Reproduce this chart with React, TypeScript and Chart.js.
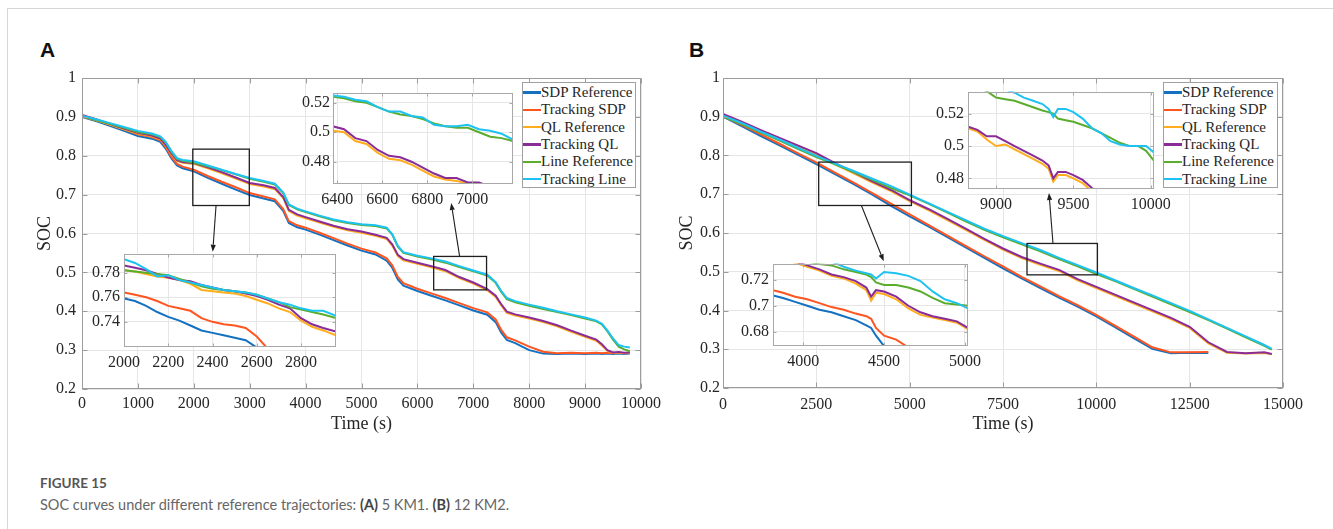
import React, { useEffect, useRef } from "react";
import { Chart, registerables } from "chart.js";

Chart.register(...registerables);

// ---------------- series meta ----------------
const SERIES_NAMES = ["SDP Reference", "Tracking SDP", "QL Reference", "Tracking QL", "Line Reference", "Tracking Line"];
const SERIES_COLORS = ["#1471c1", "#ff5521", "#ffad1c", "#8a2c97", "#5bad2e", "#1dc2f2"];

// ---------------- Panel A (5 KM1) ----------------
const timeA = [0, 250, 500, 750, 1000, 1250, 1400, 1500, 1600, 1700, 1800, 2000, 2250, 2500, 2750, 3000, 3250, 3450, 3600, 3700, 3850, 4000, 4250, 4500, 4750, 5000, 5250, 5450, 5550, 5650, 5750, 6000, 6250, 6500, 6750, 7000, 7250, 7400, 7500, 7600, 7750, 8000, 8250, 8500, 8750, 9000, 9200, 9300, 9400, 9500, 9600, 9700, 9800];
const sdpRefA = [0.900, 0.889, 0.877, 0.864, 0.851, 0.844, 0.836, 0.818, 0.793, 0.775, 0.768, 0.760, 0.743, 0.728, 0.713, 0.699, 0.690, 0.683, 0.658, 0.627, 0.616, 0.610, 0.597, 0.583, 0.569, 0.556, 0.546, 0.530, 0.512, 0.482, 0.466, 0.452, 0.440, 0.428, 0.415, 0.402, 0.391, 0.372, 0.345, 0.326, 0.318, 0.300, 0.291, 0.290, 0.291, 0.290, 0.291, 0.290, 0.291, 0.290, 0.291, 0.290, 0.291];
const trackSdpA = [0.901, 0.891, 0.880, 0.868, 0.855, 0.848, 0.840, 0.822, 0.797, 0.779, 0.772, 0.764, 0.748, 0.733, 0.719, 0.704, 0.695, 0.688, 0.663, 0.632, 0.621, 0.615, 0.602, 0.588, 0.574, 0.561, 0.551, 0.536, 0.518, 0.488, 0.472, 0.458, 0.446, 0.434, 0.421, 0.408, 0.397, 0.379, 0.352, 0.333, 0.325, 0.309, 0.296, 0.292, 0.293, 0.292, 0.293, 0.292, 0.293, 0.292, 0.293, 0.292, 0.293];
const qlRefA = [0.902, 0.892, 0.880, 0.868, 0.857, 0.850, 0.842, 0.826, 0.804, 0.787, 0.782, 0.779, 0.768, 0.755, 0.741, 0.727, 0.721, 0.714, 0.691, 0.658, 0.646, 0.639, 0.628, 0.617, 0.608, 0.602, 0.594, 0.586, 0.569, 0.542, 0.531, 0.522, 0.513, 0.503, 0.485, 0.471, 0.454, 0.437, 0.415, 0.396, 0.389, 0.381, 0.372, 0.361, 0.347, 0.334, 0.324, 0.312, 0.298, 0.293, 0.293, 0.292, 0.293];
const trackQlA = [0.905, 0.894, 0.882, 0.870, 0.859, 0.852, 0.844, 0.828, 0.806, 0.789, 0.784, 0.781, 0.770, 0.758, 0.744, 0.730, 0.724, 0.717, 0.694, 0.661, 0.649, 0.642, 0.631, 0.620, 0.611, 0.605, 0.597, 0.589, 0.572, 0.545, 0.534, 0.525, 0.516, 0.506, 0.488, 0.474, 0.457, 0.440, 0.418, 0.399, 0.392, 0.384, 0.375, 0.364, 0.350, 0.337, 0.327, 0.315, 0.300, 0.294, 0.295, 0.293, 0.294];
const lineRefA = [0.901, 0.892, 0.882, 0.872, 0.861, 0.855, 0.848, 0.834, 0.810, 0.792, 0.787, 0.782, 0.773, 0.763, 0.752, 0.741, 0.733, 0.726, 0.704, 0.673, 0.662, 0.655, 0.644, 0.634, 0.627, 0.622, 0.619, 0.613, 0.597, 0.566, 0.550, 0.541, 0.534, 0.525, 0.514, 0.503, 0.492, 0.473, 0.450, 0.431, 0.423, 0.414, 0.406, 0.398, 0.390, 0.381, 0.374, 0.366, 0.348, 0.327, 0.309, 0.302, 0.297];
const trackLineA = [0.903, 0.894, 0.884, 0.874, 0.864, 0.857, 0.850, 0.835, 0.812, 0.794, 0.789, 0.786, 0.775, 0.764, 0.753, 0.743, 0.735, 0.728, 0.705, 0.675, 0.664, 0.657, 0.646, 0.636, 0.629, 0.624, 0.621, 0.615, 0.598, 0.568, 0.552, 0.543, 0.536, 0.528, 0.516, 0.505, 0.494, 0.475, 0.452, 0.434, 0.426, 0.417, 0.409, 0.400, 0.392, 0.384, 0.376, 0.368, 0.350, 0.330, 0.313, 0.309, 0.307];

// ---------------- Panel B (12 KM2) ----------------
const timeB = [0, 500, 1000, 1500, 2000, 2500, 3000, 3500, 4000, 4500, 5000, 5500, 6000, 6500, 7000, 7500, 8000, 8500, 9000, 9500, 10000, 10500, 11000, 11500, 12000, 12500, 13000, 13500, 14000, 14500, 14700];
const sdpRefB = [0.900, 0.876, 0.851, 0.827, 0.802, 0.778, 0.752, 0.726, 0.699, 0.670, 0.643, 0.617, 0.590, 0.563, 0.536, 0.509, 0.483, 0.458, 0.433, 0.410, 0.385, 0.357, 0.329, 0.301, 0.290, 0.291, 0.290, null, null, null, null];
const trackSdpB = [0.901, 0.879, 0.855, 0.831, 0.806, 0.782, 0.756, 0.730, 0.703, 0.676, 0.648, 0.621, 0.594, 0.567, 0.540, 0.514, 0.487, 0.462, 0.437, 0.414, 0.389, 0.361, 0.333, 0.305, 0.292, 0.292, 0.293, null, null, null, null];
const qlRefB = [0.903, 0.884, 0.863, 0.843, 0.823, 0.803, 0.777, 0.754, 0.730, 0.708, 0.682, 0.659, 0.634, 0.608, 0.582, 0.557, 0.535, 0.518, 0.502, 0.478, 0.458, 0.438, 0.418, 0.398, 0.378, 0.355, 0.315, 0.291, 0.289, 0.290, 0.287];
const trackQlB = [0.907, 0.887, 0.866, 0.846, 0.826, 0.806, 0.780, 0.757, 0.733, 0.711, 0.685, 0.662, 0.637, 0.611, 0.585, 0.560, 0.538, 0.521, 0.505, 0.481, 0.461, 0.441, 0.421, 0.401, 0.381, 0.358, 0.318, 0.293, 0.290, 0.292, 0.288];
const lineRefB = [0.900, 0.881, 0.860, 0.839, 0.817, 0.796, 0.777, 0.757, 0.737, 0.716, 0.697, 0.676, 0.653, 0.630, 0.608, 0.589, 0.571, 0.553, 0.533, 0.514, 0.494, 0.476, 0.456, 0.436, 0.416, 0.396, 0.375, 0.353, 0.331, 0.309, 0.299];
const trackLineB = [0.903, 0.884, 0.862, 0.842, 0.820, 0.799, 0.779, 0.760, 0.740, 0.721, 0.699, 0.677, 0.655, 0.633, 0.611, 0.592, 0.574, 0.556, 0.536, 0.517, 0.498, 0.478, 0.458, 0.439, 0.419, 0.399, 0.377, 0.355, 0.333, 0.311, 0.301];

// ---------------- Inset A1 (6400-7180 s) ----------------
const timeA1 = [6380, 6430, 6480, 6530, 6580, 6630, 6680, 6730, 6780, 6830, 6880, 6930, 6980, 7030, 7080, 7130, 7180];
const qlRefA1 = [0.501, 0.500, 0.494, 0.492, 0.486, 0.482, 0.481, 0.478, 0.474, 0.470, 0.468, 0.467, 0.465, 0.464, 0.461, 0.459, 0.456];
const trackQlA1 = [0.504, 0.502, 0.496, 0.494, 0.488, 0.484, 0.483, 0.480, 0.476, 0.472, 0.469, 0.469, 0.466, 0.466, 0.463, 0.461, 0.458];
const lineRefA1 = [0.524, 0.523, 0.521, 0.520, 0.517, 0.514, 0.512, 0.511, 0.509, 0.506, 0.504, 0.503, 0.503, 0.500, 0.497, 0.496, 0.494];
const trackLineA1 = [0.525, 0.524, 0.522, 0.521, 0.517, 0.514, 0.514, 0.511, 0.510, 0.505, 0.504, 0.504, 0.505, 0.502, 0.501, 0.499, 0.495];

// ---------------- Inset A2 (2000-2960 s) ----------------
const timeA2 = [2000, 2050, 2100, 2150, 2200, 2250, 2300, 2350, 2400, 2450, 2500, 2550, 2600, 2650, 2700, 2750, 2800, 2850, 2900, 2958];
const sdpRefA2 = [0.759, 0.757, 0.753, 0.748, 0.744, 0.741, 0.737, 0.733, 0.731, 0.729, 0.727, 0.725, 0.719, 0.715, 0.711, 0.708, 0.705, 0.702, 0.700, 0.697];
const trackSdpA2 = [0.764, 0.762, 0.760, 0.757, 0.753, 0.751, 0.749, 0.743, 0.740, 0.738, 0.737, 0.735, 0.728, 0.718, 0.713, 0.709, 0.706, 0.703, 0.701, 0.698];
const qlRefA2 = [0.782, 0.781, 0.779, 0.777, 0.776, 0.774, 0.771, 0.766, 0.765, 0.764, 0.763, 0.761, 0.758, 0.755, 0.751, 0.748, 0.741, 0.736, 0.733, 0.729];
const trackQlA2 = [0.786, 0.784, 0.782, 0.779, 0.776, 0.774, 0.773, 0.770, 0.768, 0.766, 0.765, 0.763, 0.761, 0.758, 0.754, 0.751, 0.743, 0.738, 0.735, 0.732];
const lineRefA2 = [0.782, 0.781, 0.780, 0.779, 0.778, 0.775, 0.772, 0.769, 0.767, 0.766, 0.765, 0.764, 0.762, 0.759, 0.756, 0.752, 0.750, 0.748, 0.746, 0.743];
const trackLineA2 = [0.791, 0.788, 0.783, 0.777, 0.778, 0.774, 0.772, 0.770, 0.768, 0.766, 0.765, 0.764, 0.762, 0.759, 0.756, 0.754, 0.751, 0.749, 0.749, 0.745];

// ---------------- Inset B1 (8820-10020 s) ----------------
const timeB1 = [8820, 8880, 8940, 9000, 9060, 9120, 9180, 9240, 9300, 9340, 9370, 9400, 9450, 9500, 9560, 9620, 9680, 9740, 9800, 9860, 9920, 9970, 10020];
const qlRefB1 = [0.511, 0.509, 0.504, 0.500, 0.501, 0.498, 0.495, 0.492, 0.489, 0.486, 0.478, 0.482, 0.482, 0.480, 0.477, 0.472, 0.468, 0.464, 0.461, 0.458, 0.455, 0.453, 0.450];
const trackQlB1 = [0.512, 0.510, 0.506, 0.506, 0.503, 0.500, 0.497, 0.494, 0.491, 0.488, 0.480, 0.484, 0.484, 0.482, 0.479, 0.474, 0.470, 0.466, 0.463, 0.460, 0.457, 0.455, 0.452];
const lineRefB1 = [0.538, 0.536, 0.534, 0.530, 0.529, 0.528, 0.526, 0.524, 0.522, 0.521, 0.520, 0.517, 0.516, 0.515, 0.513, 0.511, 0.508, 0.505, 0.502, 0.500, 0.500, 0.497, 0.491];
const trackLineB1 = [0.545, 0.542, 0.540, 0.538, 0.535, 0.533, 0.530, 0.528, 0.526, 0.523, 0.518, 0.523, 0.523, 0.521, 0.517, 0.511, 0.508, 0.503, 0.501, 0.500, 0.500, 0.500, 0.496];

// ---------------- Inset B2 (3813-5019 s) ----------------
const timeB2 = [3813, 3875, 3950, 4025, 4100, 4175, 4250, 4325, 4390, 4420, 4450, 4500, 4575, 4650, 4725, 4800, 4875, 4950, 5019];
const sdpRefB2 = [0.708, 0.706, 0.703, 0.700, 0.697, 0.695, 0.692, 0.689, 0.685, 0.683, 0.677, 0.669, 0.665, 0.661, 0.658, 0.654, 0.650, 0.646, 0.642];
const trackSdpB2 = [0.712, 0.710, 0.707, 0.705, 0.702, 0.699, 0.697, 0.694, 0.692, 0.690, 0.683, 0.677, 0.674, 0.668, 0.665, 0.662, 0.659, 0.656, 0.652];
const qlRefB2 = [0.737, 0.736, 0.733, 0.730, 0.727, 0.723, 0.721, 0.717, 0.712, 0.704, 0.710, 0.709, 0.705, 0.698, 0.693, 0.691, 0.689, 0.687, 0.682];
const trackQlB2 = [0.738, 0.737, 0.734, 0.731, 0.728, 0.724, 0.722, 0.719, 0.714, 0.707, 0.712, 0.711, 0.707, 0.700, 0.695, 0.692, 0.690, 0.688, 0.683];
const lineRefB2 = [0.740, 0.738, 0.736, 0.734, 0.732, 0.731, 0.728, 0.726, 0.724, 0.722, 0.718, 0.716, 0.716, 0.714, 0.711, 0.706, 0.702, 0.701, 0.700];
const trackLineB2 = [0.742, 0.740, 0.738, 0.737, 0.735, 0.734, 0.730, 0.727, 0.725, 0.724, 0.721, 0.726, 0.725, 0.723, 0.719, 0.711, 0.705, 0.702, 0.698];

// ---------------- ticks ----------------
const yTicksMain = [0.2, 0.3, 0.4, 0.5, 0.6, 0.7, 0.8, 0.9, 1];
const xTicksA = [0, 1000, 2000, 3000, 4000, 5000, 6000, 7000, 8000, 9000, 10000];
const xTicksB = [0, 2500, 5000, 7500, 10000, 12500, 15000];
const xTicksA1 = [6400, 6600, 6800, 7000];
const yTicksA1 = [0.48, 0.5, 0.52];
const xTicksA2 = [2000, 2200, 2400, 2600, 2800];
const yTicksA2 = [0.74, 0.76, 0.78];
const xTicksB1 = [9000, 9500, 10000];
const yTicksB1 = [0.48, 0.5, 0.52];
const xTicksB2 = [4000, 4500, 5000];
const yTicksB2 = [0.68, 0.7, 0.72];

// zoom windows [t0, t1, socLow, socHigh] and arrows [tFrom, socFrom, tTo, socTo]
const zoomWindowsA = [[1982, 2993, 0.672, 0.817], [6291, 7237, 0.455, 0.541]];
const arrowsA = [[2398, 0.672, 2339, 0.553], [6755, 0.541, 6605, 0.6785]];
const zoomWindowsB = [[2563, 5047, 0.671, 0.783], [8143, 10029, 0.492, 0.573]];
const arrowsB = [[3707, 0.671, 4305, 0.527], [8839, 0.573, 8732, 0.703]];

// ---------------- styling ----------------
const SERIF = "'Liberation Serif', 'Times New Roman', Times, serif";
const TEXT = "#262626";
const GRID = "#e6e6e6";
const BOX_MAIN = "#9c9c9c";
const BOX_INSET = "#a8a8a8";

type Box = { l: number; t: number; r: number; b: number };
type Series = [number[], (number | null)[]];
interface Spec {
  frame: Box;
  plot: Box;
  xMin: number; xMax: number; yMin: number; yMax: number;
  xTicks: number[]; yTicks: number[];
  series: Series[];
  xTitle?: string; yTitle?: string;
  padX: number; padY: number;
  inset: boolean;
  windows?: number[][]; arrows?: number[][];
}

const SPECS: Spec[] = [
  {
    frame: { l: 34, t: 60, r: 669, b: 435 }, plot: { l: 82, t: 78, r: 641, b: 389 },
    xMin: 0, xMax: 10000, yMin: 0.2, yMax: 1, xTicks: xTicksA, yTicks: yTicksMain,
    series: [[timeA, sdpRefA], [timeA, trackSdpA], [timeA, qlRefA], [timeA, trackQlA], [timeA, lineRefA], [timeA, trackLineA]],
    xTitle: "Time (s)", yTitle: "SOC", padX: 5, padY: 6, inset: false,
    windows: zoomWindowsA, arrows: arrowsA,
  },
  {
    frame: { l: 676, t: 60, r: 1311, b: 435 }, plot: { l: 723, t: 78, r: 1283, b: 388 },
    xMin: 0, xMax: 15000, yMin: 0.2, yMax: 1, xTicks: xTicksB, yTicks: yTicksMain,
    series: [[timeB, sdpRefB], [timeB, trackSdpB], [timeB, qlRefB], [timeB, trackQlB], [timeB, lineRefB], [timeB, trackLineB]],
    xTitle: "Time (s)", yTitle: "SOC", padX: 7, padY: 3, inset: false,
    windows: zoomWindowsB, arrows: arrowsB,
  },
  {
    frame: { l: 283, t: 80, r: 540, b: 214 }, plot: { l: 333, t: 93, r: 513, b: 184 },
    xMin: 6381, xMax: 7181, yMin: 0.4649, yMax: 0.5266, xTicks: xTicksA1, yTicks: yTicksA1,
    series: [[timeA, sdpRefA], [timeA, trackSdpA], [timeA1, qlRefA1], [timeA1, trackQlA1], [timeA1, lineRefA1], [timeA1, trackLineA1]],
    padX: 6, padY: 3, inset: true,
  },
  {
    frame: { l: 74, t: 240, r: 362, b: 378 }, plot: { l: 124, t: 253, r: 336, b: 347 },
    xMin: 2000, xMax: 2958, yMin: 0.7195, yMax: 0.7956, xTicks: xTicksA2, yTicks: yTicksA2,
    series: [[timeA2, sdpRefA2], [timeA2, trackSdpA2], [timeA2, qlRefA2], [timeA2, trackQlA2], [timeA2, lineRefA2], [timeA2, trackLineA2]],
    padX: 6, padY: 4, inset: true,
  },
  {
    frame: { l: 918, t: 78, r: 1180, b: 220 }, plot: { l: 968, t: 91, r: 1154, b: 189 },
    xMin: 8819, xMax: 10021, yMin: 0.4734, yMax: 0.5337, xTicks: xTicksB1, yTicks: yTicksB1,
    series: [[timeB, sdpRefB], [timeB, trackSdpB], [timeB1, qlRefB1], [timeB1, trackQlB1], [timeB1, lineRefB1], [timeB1, trackLineB1]],
    padX: 6, padY: 4, inset: true,
  },
  {
    frame: { l: 723, t: 250, r: 995, b: 378 }, plot: { l: 773, t: 263, r: 968, b: 346 },
    xMin: 3813, xMax: 5019, yMin: 0.6691, yMax: 0.7324, xTicks: xTicksB2, yTicks: yTicksB2,
    series: [[timeB2, sdpRefB2], [timeB2, trackSdpB2], [timeB2, qlRefB2], [timeB2, trackQlB2], [timeB2, lineRefB2], [timeB2, trackLineB2]],
    padX: 6, padY: 4, inset: true,
  },
];

function boxPlugin(spec: Spec) {
  return {
    id: "axesBox",
    beforeDraw(chart: any) {
      if (!spec.inset) return;
      const { ctx, chartArea: a } = chart;
      ctx.save();
      ctx.fillStyle = "#ffffff";
      ctx.fillRect(a.left, a.top, a.right - a.left, a.bottom - a.top);
      ctx.restore();
    },
    afterDraw(chart: any) {
      const { ctx, chartArea: a, scales } = chart;
      const L = Math.round(a.left) + 0.5, T = Math.round(a.top) + 0.5;
      const R = Math.round(a.right) - 0.5, B = Math.round(a.bottom) - 0.5;
      const tl = spec.inset ? 3 : 5;
      ctx.save();
      ctx.strokeStyle = spec.inset ? BOX_INSET : BOX_MAIN;
      ctx.lineWidth = 1;
      ctx.beginPath();
      for (const v of spec.xTicks) {
        const px = Math.round(scales.x.getPixelForValue(v)) + 0.5;
        ctx.moveTo(px, B); ctx.lineTo(px, B - tl);
        ctx.moveTo(px, T); ctx.lineTo(px, T + tl);
      }
      for (const v of spec.yTicks) {
        const py = Math.round(scales.y.getPixelForValue(v)) + 0.5;
        ctx.moveTo(L, py); ctx.lineTo(L + tl, py);
        ctx.moveTo(R, py); ctx.lineTo(R - tl, py);
      }
      ctx.stroke();
      ctx.strokeRect(L, T, R - L, B - T);
      ctx.restore();
    },
  };
}

function marksPlugin(spec: Spec) {
  return {
    id: "zoomMarks",
    afterDatasetsDraw(chart: any) {
      if (!spec.windows && !spec.arrows) return;
      const { ctx, scales } = chart;
      const xs = scales.x, ys = scales.y;
      ctx.save();
      ctx.strokeStyle = "#1f1f1f";
      ctx.fillStyle = "#1f1f1f";
      ctx.lineWidth = 1.3;
      for (const [t0, t1, s0, s1] of spec.windows || []) {
        const x0 = xs.getPixelForValue(t0), x1 = xs.getPixelForValue(t1);
        const y0 = ys.getPixelForValue(s1), y1 = ys.getPixelForValue(s0);
        ctx.strokeRect(x0, y0, x1 - x0, y1 - y0);
      }
      for (const [ta, sa, tb, sb] of spec.arrows || []) {
        const xa = xs.getPixelForValue(ta), ya = ys.getPixelForValue(sa);
        const xb = xs.getPixelForValue(tb), yb = ys.getPixelForValue(sb);
        const ang = Math.atan2(yb - ya, xb - xa);
        const hl = 7, hw = 2.6;
        const bx = xb - hl * Math.cos(ang), by = yb - hl * Math.sin(ang);
        ctx.lineWidth = 1.1;
        ctx.beginPath();
        ctx.moveTo(xa, ya);
        ctx.lineTo(bx, by);
        ctx.stroke();
        ctx.beginPath();
        ctx.moveTo(xb, yb);
        ctx.lineTo(bx + hw * Math.sin(ang), by - hw * Math.cos(ang));
        ctx.lineTo(bx - hw * Math.sin(ang), by + hw * Math.cos(ang));
        ctx.closePath();
        ctx.fill();
      }
      ctx.restore();
    },
  };
}

function buildChart(canvas: HTMLCanvasElement, spec: Spec) {
  const yW = spec.plot.l - spec.frame.l;
  const xH = spec.frame.b - spec.plot.b;
  const padTop = spec.plot.t - spec.frame.t;
  const padRight = spec.frame.r - spec.plot.r;
  const tickFont = { family: SERIF, size: 16 };
  const titleFont = { family: SERIF, size: 18 };
  const datasets = spec.series.map(([xs, ys], i) => ({
    label: SERIES_NAMES[i],
    data: xs.map((x, k) => ({ x, y: ys[k] })).filter((p) => p.y !== null && p.y !== undefined),
    borderColor: SERIES_COLORS[i],
    backgroundColor: SERIES_COLORS[i],
    borderWidth: 2,
    pointRadius: 0,
    tension: 0,
    fill: false,
    order: 5 - i,
  }));
  return new Chart(canvas, {
    type: "line",
    data: { datasets } as any,
    options: {
      responsive: false,
      maintainAspectRatio: false,
      animation: false,
      devicePixelRatio: 1,
      events: [],
      layout: { padding: { top: padTop, right: padRight, left: 0, bottom: 0 } },
      plugins: { legend: { display: false }, tooltip: { enabled: false } },
      scales: {
        x: {
          type: "linear",
          min: spec.xMin,
          max: spec.xMax,
          afterBuildTicks: (s: any) => { s.ticks = spec.xTicks.map((v) => ({ value: v })); },
          afterFit: (s: any) => { s.height = xH; },
          ticks: { callback: (v: any) => String(v), font: tickFont, color: TEXT, padding: spec.padX, maxRotation: 0, minRotation: 0, autoSkip: false },
          grid: { color: GRID, drawTicks: false, lineWidth: 1 },
          border: { display: false },
          title: spec.xTitle
            ? { display: true, text: spec.xTitle, font: titleFont, color: TEXT, padding: { top: 0, bottom: 0 } }
            : { display: false },
        },
        y: {
          type: "linear",
          min: spec.yMin,
          max: spec.yMax,
          afterBuildTicks: (s: any) => { s.ticks = spec.yTicks.map((v) => ({ value: v })); },
          afterFit: (s: any) => { s.width = yW; },
          ticks: { callback: (v: any) => String(v), font: tickFont, color: TEXT, padding: spec.padY, autoSkip: false },
          grid: { color: GRID, drawTicks: false, lineWidth: 1 },
          border: { display: false },
          title: spec.yTitle
            ? { display: true, text: spec.yTitle, font: titleFont, color: TEXT, padding: { top: 0, bottom: 0 } }
            : { display: false },
        },
      },
    } as any,
    plugins: [boxPlugin(spec), marksPlugin(spec)],
  });
}

function Legend({ left, top, width, height }: { left: number; top: number; width: number; height: number }) {
  return (
    <div
      style={{
        position: "absolute", left, top, width, height, boxSizing: "border-box",
        border: "1px solid #a0a0a0", background: "#fff", paddingTop: 1,
      }}
    >
      {SERIES_NAMES.map((n, i) => (
        <div key={n} style={{ display: "flex", alignItems: "center", height: 17.3, whiteSpace: "nowrap" }}>
          <span style={{ display: "inline-block", width: 18, height: 2.5, background: SERIES_COLORS[i], flex: "none" }} />
          <span style={{ font: `15px ${SERIF}`, color: TEXT, lineHeight: "17px" }}>{n}</span>
        </div>
      ))}
    </div>
  );
}

export default function App() {
  const refs = useRef<(HTMLCanvasElement | null)[]>([]);
  useEffect(() => {
    const charts = SPECS.map((s, i) => buildChart(refs.current[i] as HTMLCanvasElement, s));
    return () => charts.forEach((c) => c.destroy());
  }, []);
  const sans = "'Liberation Sans', Arial, sans-serif";
  const capFont = "Lato, 'Open Sans', sans-serif";
  return (
    <div style={{ position: "absolute", left: 0, top: 0, width: 1333, height: 529, background: "#fff", overflow: "hidden" }}>
      <div style={{ position: "absolute", left: 7, top: 8, width: 1330, height: 530, borderTop: "1px solid #d6d6d6", borderLeft: "1px solid #d6d6d6" }} />
      <div style={{ position: "absolute", left: 40, top: 39, font: `bold 21px ${sans}`, lineHeight: "21px", color: "#111" }}>A</div>
      <div style={{ position: "absolute", left: 689, top: 39, font: `bold 21px ${sans}`, lineHeight: "21px", color: "#111" }}>B</div>
      {SPECS.map((s, i) => (
        <canvas
          key={i}
          ref={(el) => { refs.current[i] = el; }}
          width={s.frame.r - s.frame.l}
          height={s.frame.b - s.frame.t}
          style={{ position: "absolute", left: s.frame.l, top: s.frame.t, width: s.frame.r - s.frame.l, height: s.frame.b - s.frame.t }}
        />
      ))}
      <Legend left={522} top={82} width={114} height={106} />
      <Legend left={1163} top={82} width={115} height={106} />
      <div style={{ position: "absolute", left: 40, top: 472, font: `bold 13.5px ${capFont}`, lineHeight: "22px", color: "#555" }}>FIGURE 15</div>
      <div style={{ position: "absolute", left: 40, top: 494, font: `14.5px ${capFont}`, lineHeight: "22px", color: "#666", whiteSpace: "nowrap" }}>
        SOC curves under different reference trajectories: <b style={{ color: "#444" }}>(A)</b> 5 KM1. <b style={{ color: "#444" }}>(B)</b> 12 KM2.
      </div>
    </div>
  );
}
